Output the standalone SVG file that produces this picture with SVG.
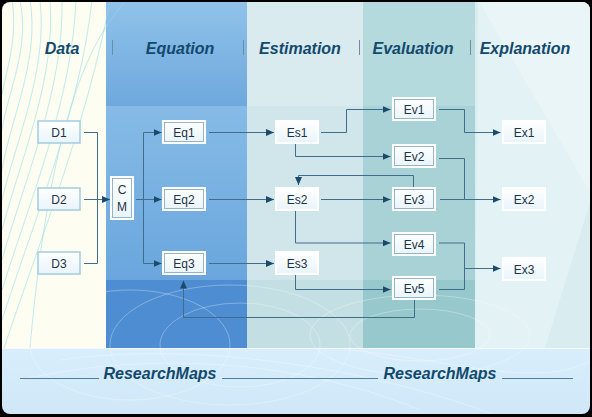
<svg xmlns="http://www.w3.org/2000/svg" width="592" height="417" viewBox="0 0 592 417">
<defs>
<style>
.hdr{font-family:"Liberation Sans",Arial,sans-serif;font-size:16px;font-weight:bold;font-style:italic;fill:#12496c;text-anchor:middle}
.lbl{font-family:"Liberation Sans",Arial,sans-serif;font-size:12px;fill:#1d3346;text-anchor:middle}
.sep{stroke:#6b8ea6;stroke-width:1}
.box{fill:url(#boxg);stroke:#ffffff;stroke-width:2}
.inner{fill:none;stroke:#7fa3b8;stroke-width:0.8}
.dbox{fill:url(#boxg);stroke:#a3cbe2;stroke-width:1.5}
.con{fill:none;stroke:#3f6d8b;stroke-width:1}
.arr{marker-end:url(#ah)}
.swirl{fill:none;stroke:#8fdbe8;stroke-width:0.8;opacity:0.7}
.arc{fill:none;stroke:#ffffff;stroke-width:1;opacity:0.3}
.rml{stroke:#4f7f9c;stroke-width:1}
</style>
<linearGradient id="boxg" x1="0" y1="0" x2="0" y2="1">
<stop offset="0" stop-color="#ffffff"/>
<stop offset="1" stop-color="#e8f4fb"/>
</linearGradient>
<linearGradient id="eqtop" x1="0" y1="0" x2="0" y2="1">
<stop offset="0" stop-color="#90c3ea"/>
<stop offset="1" stop-color="#6ea8dd"/>
</linearGradient>
<linearGradient id="eqmid" x1="0" y1="0" x2="0" y2="1">
<stop offset="0" stop-color="#86bbe6"/>
<stop offset="1" stop-color="#6aa6dd"/>
</linearGradient>
<linearGradient id="bot" x1="0" y1="0" x2="0" y2="1">
<stop offset="0" stop-color="#d8eefc"/>
<stop offset="1" stop-color="#cfe7f8"/>
</linearGradient>
<clipPath id="frame"><rect x="2" y="2" width="588" height="412" rx="8"/></clipPath>
<marker id="ah" viewBox="0 0 8 7" markerWidth="8" markerHeight="7" refX="8" refY="3.5" orient="auto" markerUnits="userSpaceOnUse">
<path d="M0,0 L8,3.5 L0,7 z" fill="#1b4a6b"/>
</marker>
</defs>
<rect x="0" y="0" width="592" height="417" fill="#000000"/>
<g id="background" clip-path="url(#frame)">
<rect x="0" y="0" width="106" height="348" fill="#fdfdf2"/>
<rect x="106" y="0" width="141" height="106" fill="url(#eqtop)"/>
<rect x="106" y="106" width="141" height="174" fill="url(#eqmid)"/>
<rect x="106" y="280" width="141" height="68" fill="#4e8dd2"/>
<rect x="247" y="0" width="116" height="106" fill="#d9ebef"/>
<rect x="247" y="106" width="116" height="174" fill="#d0e6ea"/>
<rect x="247" y="280" width="116" height="68" fill="#c3dfe3"/>
<rect x="363" y="0" width="112" height="106" fill="#b5dadd"/>
<rect x="363" y="106" width="112" height="174" fill="#a8d2d6"/>
<rect x="363" y="280" width="112" height="68" fill="#97c8cc"/>
<rect x="475" y="0" width="117" height="348" fill="#d9ecf0"/>
<polygon points="478,0 592,0 592,196 545,348 475,348" fill="#e3f2f5"/>
<polygon points="478,0 592,196 592,0" fill="#edf7f9" opacity="0.6"/>
<rect x="0" y="348" width="592" height="69" fill="url(#bot)"/>
<line x1="0" y1="348.5" x2="592" y2="348.5" stroke="#ffffff" stroke-width="1" opacity="0.7"/>
<path class="swirl" d="M30,0 C40,60 10,120 2,170"/>
<path class="swirl" d="M40,0 C48,70 16,140 2,200"/>
<path class="swirl" d="M50,0 C56,80 20,160 2,230"/>
<path class="swirl" d="M62,0 C64,90 24,180 2,260"/>
<path class="swirl" d="M76,0 C72,100 30,200 2,290"/>
<path class="swirl" d="M92,0 C80,110 34,220 2,320"/>
<path class="swirl" d="M110,0 C88,120 40,240 4,348"/>
<path class="swirl" d="M20,0 C30,50 8,90 2,130"/>
<path class="swirl" d="M12,0 C18,40 6,70 2,95"/>
<path class="swirl" d="M125,2 C90,40 50,120 30,348" opacity="0.4"/>
<ellipse class="arc" cx="230" cy="345" rx="120" ry="60"/>
<ellipse class="arc" cx="240" cy="345" rx="80" ry="42"/>
<ellipse class="arc" cx="130" cy="345" rx="100" ry="55"/>
<ellipse class="arc" cx="420" cy="335" rx="110" ry="40"/>
<ellipse class="arc" cx="420" cy="335" rx="70" ry="26"/>
<path class="arc" d="M20,380 C150,350 300,360 420,410"/>
<path class="arc" d="M60,360 C200,340 380,370 500,417"/>
<path class="arc" d="M350,350 C450,360 540,390 592,360"/>
</g>
<g id="headers">
<text class="hdr" x="62" y="54">Data</text>
<text class="hdr" x="180" y="54">Equation</text>
<text class="hdr" x="300" y="54">Estimation</text>
<text class="hdr" x="413" y="54">Evaluation</text>
<text class="hdr" x="525" y="54">Explanation</text>
<line class="sep" x1="112.5" y1="40" x2="112.5" y2="55"/>
<line class="sep" x1="243.5" y1="40" x2="243.5" y2="55"/>
<line class="sep" x1="359.5" y1="40" x2="359.5" y2="55"/>
<line class="sep" x1="470.5" y1="40" x2="470.5" y2="55"/>
</g>
<g id="footer">
<line class="rml" x1="20" y1="378.5" x2="99" y2="378.5"/>
<text class="hdr" x="160" y="378.5">ResearchMaps</text>
<line class="rml" x1="222" y1="378.5" x2="378" y2="378.5"/>
<text class="hdr" x="440" y="378.5">ResearchMaps</text>
<line class="rml" x1="502" y1="378.5" x2="573" y2="378.5"/>
</g>
<g id="connectors">
<path class="con" d="M84,132.5 H97.5 V263.5 H84"/>
<path class="con arr" d="M84,199.5 H110"/>
<path class="con arr" d="M136,199.5 H161.5"/>
<path class="con arr" d="M143.5,132.5 H161.5"/>
<path class="con arr" d="M143.5,132.5 V263.5 H161.5"/>
<path class="con arr" d="M209,132.5 H274"/>
<path class="con arr" d="M209,199.5 H274"/>
<path class="con arr" d="M209,263.5 H274"/>
<path class="con arr" d="M321,132.5 H346.5 V109.5 H390.5"/>
<path class="con arr" d="M295.5,144 V156.5 H390.5"/>
<path class="con arr" d="M321,199.5 H390.5"/>
<path class="con arr" d="M413.5,188 V175.5 H298.5 V185"/>
<path class="con arr" d="M295.5,211 V243 H390.5"/>
<path class="con arr" d="M295.5,275 V289.5 H390.5"/>
<path class="con arr" d="M414.5,300 V317.5 H183.5 V280.5"/>
<path class="con arr" d="M439,109.5 H464.5 V132.5 H500.5"/>
<path class="con arr" d="M439,158.5 H464.5 V199.5 H500.5"/>
<path class="con" d="M440,199.5 H464.5"/>
<path class="con" d="M439,243 H464.5 V289.5 H439"/>
<path class="con arr" d="M464.5,268.5 H500.5"/>
</g>
<g id="D1"><rect class="dbox" x="38" y="121" width="42" height="22"/><text class="lbl" x="59" y="136.5">D1</text></g>
<g id="D2"><rect class="dbox" x="38" y="188" width="42" height="22"/><text class="lbl" x="59" y="203.5">D2</text></g>
<g id="D3"><rect class="dbox" x="38" y="252" width="42" height="22"/><text class="lbl" x="59" y="267.5">D3</text></g>
<g id="CM"><rect class="box" x="111" y="177" width="22" height="42"/><rect class="inner" x="112.5" y="178.5" width="19" height="39"/><text class="lbl" x="122" y="194">C</text><text class="lbl" x="122" y="211">M</text></g>
<g id="Eq1"><rect class="box" x="163" y="121" width="42" height="22"/><rect class="inner" x="164.5" y="122.5" width="39" height="19"/><text class="lbl" x="184" y="136.5">Eq1</text></g>
<g id="Eq2"><rect class="box" x="163" y="188" width="42" height="22"/><rect class="inner" x="164.5" y="189.5" width="39" height="19"/><text class="lbl" x="184" y="203.5">Eq2</text></g>
<g id="Eq3"><rect class="box" x="163" y="252" width="42" height="22"/><rect class="inner" x="164.5" y="253.5" width="39" height="19"/><text class="lbl" x="184" y="267.5">Eq3</text></g>
<g id="Es1"><rect class="box" x="276" y="121" width="42" height="22"/><text class="lbl" x="297" y="136.5">Es1</text></g>
<g id="Es2"><rect class="box" x="276" y="188" width="42" height="22"/><text class="lbl" x="297" y="203.5">Es2</text></g>
<g id="Es3"><rect class="box" x="276" y="252" width="42" height="22"/><text class="lbl" x="297" y="267.5">Es3</text></g>
<g id="Ev1"><rect class="box" x="393" y="98" width="42" height="22"/><rect class="inner" x="394.5" y="99.5" width="39" height="19"/><text class="lbl" x="414" y="113.5">Ev1</text></g>
<g id="Ev2"><rect class="box" x="393" y="145" width="42" height="22"/><rect class="inner" x="394.5" y="146.5" width="39" height="19"/><text class="lbl" x="414" y="160.5">Ev2</text></g>
<g id="Ev3"><rect class="box" x="393" y="188" width="42" height="22"/><rect class="inner" x="394.5" y="189.5" width="39" height="19"/><text class="lbl" x="414" y="203.5">Ev3</text></g>
<g id="Ev4"><rect class="box" x="393" y="233" width="42" height="22"/><rect class="inner" x="394.5" y="234.5" width="39" height="19"/><text class="lbl" x="414" y="248.5">Ev4</text></g>
<g id="Ev5"><rect class="box" x="393" y="277" width="42" height="22"/><rect class="inner" x="394.5" y="278.5" width="39" height="19"/><text class="lbl" x="414" y="292.5">Ev5</text></g>
<g id="Ex1"><rect class="box" x="503" y="121" width="42" height="22"/><text class="lbl" x="524" y="136.5">Ex1</text></g>
<g id="Ex2"><rect class="box" x="503" y="188" width="42" height="22"/><text class="lbl" x="524" y="203.5">Ex2</text></g>
<g id="Ex3"><rect class="box" x="503" y="258" width="42" height="22"/><text class="lbl" x="524" y="273.5">Ex3</text></g>
</svg>
